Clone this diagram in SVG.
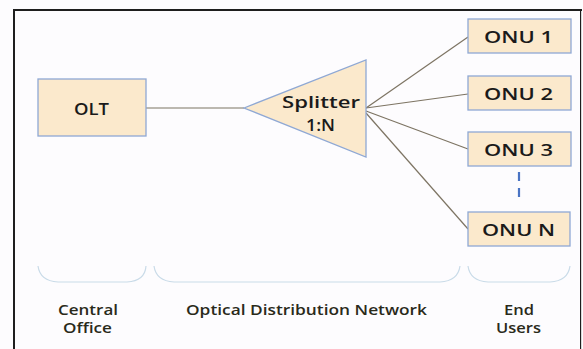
<svg xmlns="http://www.w3.org/2000/svg" width="583" height="349" viewBox="0 0 583 349">
<style>
.box{fill:#fbe9cc;stroke:#8fa8d4;stroke-width:1.3}
.lbl{font-family:"Open Sans","Liberation Sans",sans-serif;font-weight:600;fill:#1a1a1a}
.node{font-size:16.5px}
.cap{font-size:14px;fill:#2a2a1a}
.ln{stroke:#7d7463;stroke-width:1.2;fill:none}
.brace{stroke:#c9dbe8;stroke-width:1.2;fill:none}
</style>
<rect width="583" height="349" fill="#fdfcfe"/>
<path d="M14,349 V10 H581 V349" fill="none" stroke="#1e1e1e" stroke-width="2"/>
<line x1="581.5" y1="11" x2="581.5" y2="349" stroke="#d8d8d8" stroke-width="1"/>
<g id="connectors">
<line class="ln" x1="146" y1="108" x2="244" y2="108"/>
<line class="ln" x1="366" y1="108" x2="468" y2="37"/>
<line class="ln" x1="366" y1="108" x2="468" y2="94"/>
<line class="ln" x1="366" y1="111" x2="468" y2="149"/>
<line class="ln" x1="366" y1="113" x2="468" y2="229"/>
<line x1="519" y1="172" x2="519" y2="199" stroke="#4a74c4" stroke-width="2.2" stroke-dasharray="9,7"/>
</g>
<g id="olt">
<rect class="box" x="38" y="79" width="108" height="57"/>
<text class="lbl node" x="74" y="114.5" textLength="35" lengthAdjust="spacingAndGlyphs">OLT</text>
</g>
<g id="splitter">
<polygon points="244,108 366,60 366,157" fill="#fbe9cc" stroke="#8fa8d4" stroke-width="1.3"/>
<text class="lbl node" x="282" y="107.5" textLength="78" lengthAdjust="spacingAndGlyphs" style="font-size:17px">Splitter</text>
<text class="lbl node" x="306" y="131" textLength="29" lengthAdjust="spacingAndGlyphs" style="font-size:17px">1:N</text>
</g>
<g id="onu1">
<rect class="box" x="468" y="19" width="103" height="34"/>
<text class="lbl node" x="484" y="43" textLength="69" lengthAdjust="spacingAndGlyphs">ONU 1</text>
</g>
<g id="onu2">
<rect class="box" x="468" y="76" width="103" height="34"/>
<text class="lbl node" x="484" y="100" textLength="69" lengthAdjust="spacingAndGlyphs">ONU 2</text>
</g>
<g id="onu3">
<rect class="box" x="468" y="132" width="103" height="34"/>
<text class="lbl node" x="484" y="156" textLength="69" lengthAdjust="spacingAndGlyphs">ONU 3</text>
</g>
<g id="onun">
<rect class="box" x="468" y="212" width="102" height="34"/>
<text class="lbl node" x="482" y="236" textLength="73" lengthAdjust="spacingAndGlyphs">ONU N</text>
</g>
<g id="central-office">
<path class="brace" d="M38,266 Q40,281 58,282 H127 Q145,281 146,266"/>
<text class="lbl cap" x="58" y="315" textLength="60" lengthAdjust="spacingAndGlyphs">Central</text>
<text class="lbl cap" x="63" y="333" textLength="49" lengthAdjust="spacingAndGlyphs">Office</text>
</g>
<g id="odn">
<path class="brace" d="M154,266 Q156,281 174,282 H440 Q458,281 460,266"/>
<text class="lbl cap" x="186" y="315" textLength="241" lengthAdjust="spacingAndGlyphs">Optical Distribution Network</text>
</g>
<g id="end-users">
<path class="brace" d="M468,266 Q470,281 488,282 H550 Q568,281 570,266"/>
<text class="lbl cap" x="504" y="315" textLength="30" lengthAdjust="spacingAndGlyphs">End</text>
<text class="lbl cap" x="496" y="333" textLength="45" lengthAdjust="spacingAndGlyphs">Users</text>
</g>
</svg>
